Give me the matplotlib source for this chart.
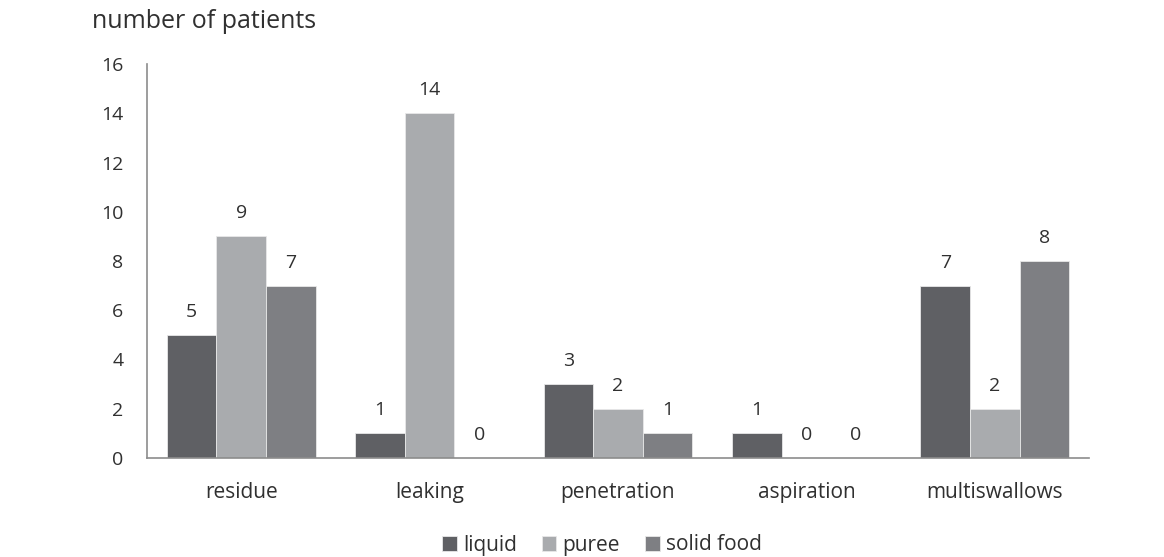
import matplotlib
matplotlib.use("Agg")
import matplotlib.pyplot as plt
import numpy as np

categories = ["residue", "leaking", "penetration", "aspiration", "multiswallows"]
series_names = ["liquid", "puree", "solid food"]
liquid = [5, 1, 3, 1, 7]
puree = [9, 14, 2, 0, 2]
solid_food = [7, 0, 1, 0, 8]
yticks = [0, 2, 4, 6, 8, 10, 12, 14, 16]

colors = ["#5f6064", "#a9abae", "#7e7f83"]
text_color = "#303030"

plt.rcParams['font.family'] = ['Open Sans', 'DejaVu Sans']

fig = plt.figure(figsize=(11.64, 5.57), dpi=100)
ax = fig.add_axes([147/1164, 1-458/557, (1089-147)/1164, (458-64)/557])

x = np.arange(len(categories))
w = 0.263
for i, (vals, name) in enumerate(zip([liquid, puree, solid_food], series_names)):
    pos = x + (i - 1) * w
    ax.bar(pos, vals, width=w, color=colors[i], edgecolor="#e8e8e8", linewidth=0.6, label=name)
    for p, v in zip(pos, vals):
        ax.annotate(str(v), (p, v), xytext=(0, 10), textcoords="offset points",
                    ha="center", va="bottom", fontsize=14, color=text_color)

ax.set_xlim(-0.5, len(categories) - 0.5)
ax.set_ylim(0, 16)
ax.set_yticks(yticks)
ax.set_xticks(x)
ax.set_xticklabels(categories, fontsize=15)
ax.tick_params(axis="both", length=0, colors=text_color)
ax.tick_params(axis="y", pad=17, labelsize=14)
ax.tick_params(axis="x", pad=17)
for s in ["top", "right"]:
    ax.spines[s].set_visible(False)
for s in ["left", "bottom"]:
    ax.spines[s].set_color("#8c8c8c")
    ax.spines[s].set_linewidth(1.2)

fig.text(92/1164, 1-21/557, "number of patients", fontsize=18, color=text_color, va="center", ha="left")

fig.legend(loc="center", bbox_to_anchor=(602/1164, 1-545/557), ncol=3, frameon=False,
           fontsize=15, handlelength=0.7, handleheight=0.7, handletextpad=0.3,
           columnspacing=1.2, labelcolor=text_color)

fig.savefig("out.png", dpi=100)
